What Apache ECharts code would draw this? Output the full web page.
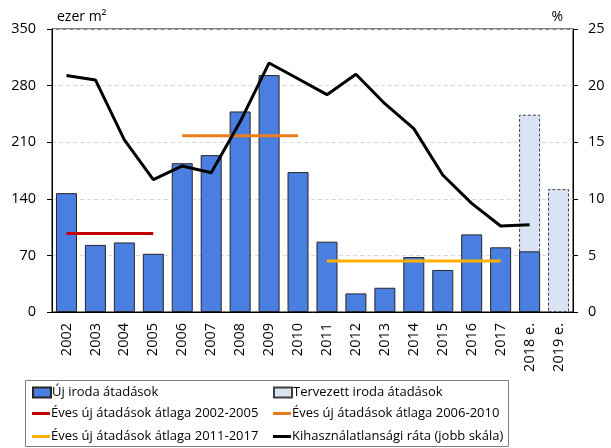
<!DOCTYPE html>
<html>
<head>
<meta charset="utf-8">
<script src="https://cdn.jsdelivr.net/npm/echarts@6/dist/echarts.min.js"></script>
<style>
  html, body { margin: 0; padding: 0; background: #fff; }
  #chart { width: 611px; height: 448px; }
</style>
</head>
<body>
<div id="chart"></div>
<script>
const years = ['2002', '2003', '2004', '2005', '2006', '2007', '2008', '2009', '2010',
  '2011', '2012', '2013', '2014', '2015', '2016', '2017', '2018 e.', '2019 e.']
// ezer m2
const newOffice = [147, 83, 86, 72, 184, 194, 248, 293, 173, 87, 23, 30, 68, 52, 96, 80, 75, null]
const plannedOffice = [null, null, null, null, null, null, null, null, null,
  null, null, null, null, null, null, null, 244, 152]
const avg0205 = [97, 97, 97, 97, null, null, null, null, null, null, null, null, null, null, null, null, null, null]
const avg0610 = [null, null, null, null, 218, 218, 218, 218, 218, null, null, null, null, null, null, null, null, null]
const avg1117 = [null, null, null, null, null, null, null, null, null, 63, 63, 63, 63, 63, 63, 63, null, null]
// % (jobb skála)
const vacancy = [20.9, 20.5, 15.2, 11.7, 12.9, 12.3, 16.8, 22.0, 20.6,
  19.2, 21.0, 18.4, 16.2, 12.1, 9.6, 7.6, 7.7, null]
const leftTicks = [0, 70, 140, 210, 280, 350]
const rightTicks = [0, 5, 10, 15, 20, 25]

const font = 'Open Sans'
const chart = echarts.init(document.getElementById('chart'))

// one legend per entry so the 2x3 layout is exact
function legendItem(name, left, top, isBar) {
  return {
    left: left, top: top, padding: 0,
    itemWidth: 18, itemHeight: isBar ? 10 : 3,
    icon: 'rect',
    textStyle: { fontFamily: font, fontSize: 13, color: '#000', padding: [0, 0, 0, -4] },
    data: [name]
  }
}

const option = {
  animation: false,
  textStyle: { fontFamily: font },
  grid: {
    left: 52, right: 38, top: 29, bottom: 136,
    show: true, borderColor: '#000', borderWidth: 1
  },
  legend: [
    legendItem('Új iroda átadások', 32, 386, true),
    legendItem('Éves új átadások átlaga 2002-2005', 32, 407, false),
    legendItem('Éves új átadások átlaga 2011-2017', 32, 430, false),
    legendItem('Tervezett iroda átadások', 273, 386, true),
    legendItem('Éves új átadások átlaga 2006-2010', 273, 407, false),
    legendItem('Kihasználatlansági ráta (jobb skála)', 273, 430, false)
  ],
  graphic: [
    {
      type: 'rect',
      shape: { x: 25.5, y: 380.5, width: 483, height: 66 },
      style: { fill: 'none', stroke: '#7f7f7f', lineWidth: 1 }
    }
  ],
  xAxis: {
    type: 'category',
    data: years,
    axisLine: { lineStyle: { color: '#000' } },
    axisTick: { show: false },
    axisLabel: { rotate: 90, fontSize: 14.5, color: '#000', margin: 11, interval: 0 }
  },
  yAxis: [
    {
      type: 'value', min: 0, max: 350, interval: 70,
      name: 'ezer m²',
      nameLocation: 'end',
      nameGap: 5,
      nameTextStyle: { align: 'left', fontSize: 14, color: '#000', padding: [0, 0, 0, 5] },
      axisLine: { show: true, lineStyle: { color: '#000' } },
      axisTick: { show: true, length: 5, lineStyle: { color: '#000' } },
      axisLabel: { fontSize: 14.5, color: '#000', margin: 16,
        formatter: v => leftTicks.includes(v) ? String(v) : '' },
      splitLine: { lineStyle: { color: '#d9d9d9', type: [4, 3] } }
    },
    {
      type: 'value', min: 0, max: 25, interval: 5,
      name: '%',
      nameLocation: 'end',
      nameGap: 5,
      nameTextStyle: { align: 'right', fontSize: 14, color: '#000', padding: [0, 10, 0, 0] },
      axisLine: { show: true, lineStyle: { color: '#000' } },
      axisTick: { show: true, length: 5, lineStyle: { color: '#000' } },
      axisLabel: { fontSize: 14.5, color: '#000', margin: 15,
        formatter: v => rightTicks.includes(v) ? String(v) : '' },
      splitLine: { show: false }
    }
  ],
  series: [
    {
      name: 'Tervezett iroda átadások',
      type: 'bar',
      data: plannedOffice,
      barWidth: 21,
      itemStyle: { color: '#dae3f3', borderColor: '#404040', borderWidth: 1, borderType: [3, 2] }
    },
    {
      name: 'Új iroda átadások',
      type: 'bar',
      data: newOffice,
      barWidth: 21,
      barGap: '-100%',
      itemStyle: { color: '#4a7ee0', borderColor: '#262626', borderWidth: 1 }
    },
    {
      name: 'Éves új átadások átlaga 2002-2005',
      type: 'line', data: avg0205, symbol: 'none',
      lineStyle: { color: '#c00000', width: 3 }, itemStyle: { color: '#c00000' }
    },
    {
      name: 'Éves új átadások átlaga 2006-2010',
      type: 'line', data: avg0610, symbol: 'none',
      lineStyle: { color: '#ed7d1b', width: 3 }, itemStyle: { color: '#ed7d1b' }
    },
    {
      name: 'Éves új átadások átlaga 2011-2017',
      type: 'line', data: avg1117, symbol: 'none',
      lineStyle: { color: '#ffb000', width: 3 }, itemStyle: { color: '#ffb000' }
    },
    {
      name: 'Kihasználatlansági ráta (jobb skála)',
      type: 'line', yAxisIndex: 1, data: vacancy, symbol: 'none',
      lineStyle: { color: '#000', width: 3 }, itemStyle: { color: '#000' }
    }
  ]
}
chart.setOption(option)
</script>
</body>
</html>
